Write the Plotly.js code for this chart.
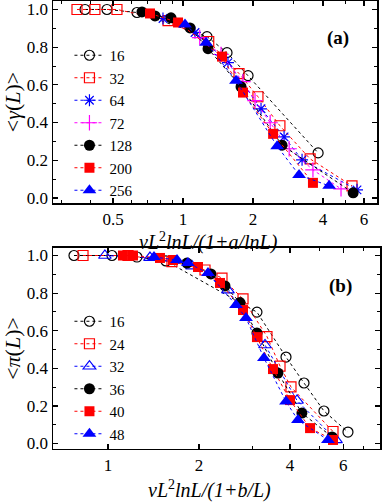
<!DOCTYPE html>
<html>
<head>
<meta charset="utf-8">
<script src="https://cdn.plot.ly/plotly-3.0.1.min.js"></script>
<style>
  html, body { margin: 0; padding: 0; background: #fff; }
  #graph { width: 382px; height: 502px; }
</style>
</head>
<body>
<div id="graph"></div>
<script>
// Panel (a): <gamma(L)> against vL^2 lnL/(1+a/lnL)
const aLabels = ["16", "32", "64", "72", "128", "200", "256"];
const aX16 = [0.379, 0.471, 0.634, 1.268, 1.546, 1.904, 3.81];
const aY16 = [1.0, 1.0, 0.984, 0.856, 0.771, 0.649, 0.239];
const aX32 = [0.350, 0.418, 0.520, 0.862, 1.29, 1.741, 2.10, 2.61, 3.52, 5.33];
const aY32 = [1.0, 1.0, 1.0, 0.941, 0.830, 0.660, 0.537, 0.383, 0.207, 0.064];
const aX64 = [0.820, 1.126, 1.561, 2.165, 2.72, 3.25, 5.6];
const aY64 = [0.952, 0.878, 0.718, 0.473, 0.324, 0.202, 0.043];
const aX72 = [1.18, 1.457, 1.81, 2.04, 2.37, 2.86, 3.62, 4.78];
const aY72 = [0.851, 0.761, 0.617, 0.516, 0.399, 0.261, 0.149, 0.048];
const aX128 = [0.666, 0.758, 0.888, 1.072, 1.281, 1.776, 2.666, 5.39];
const aY128 = [0.987, 0.966, 0.956, 0.902, 0.792, 0.590, 0.280, 0.027];
const aX200 = [0.721, 0.952, 1.471, 1.811, 2.44, 3.62];
const aY200 = [0.979, 0.931, 0.750, 0.559, 0.340, 0.080];
const aX256 = [1.02, 1.256, 1.69, 2.54, 3.155, 4.25];
const aY256 = [0.920, 0.824, 0.622, 0.274, 0.122, 0.064];

// Panel (b): <pi(L)> against vL^2 lnL/(1+b/L)
const bLabels = ["16", "24", "32", "36", "40", "48"];
const bX16 = [0.772, 1.031, 1.247, 1.555, 3.11, 3.88, 4.45, 5.18, 6.22];
const bY16 = [1.0, 1.0, 0.992, 0.971, 0.699, 0.460, 0.322, 0.173, 0.061];
const bX24 = [0.827, 1.165, 1.628, 2.094, 2.383, 2.797, 3.357, 3.707, 4.03, 5.55];
const bY24 = [1.0, 1.0, 0.968, 0.923, 0.880, 0.769, 0.569, 0.412, 0.301, 0.064];
const bX32 = [0.977, 1.377, 1.896, 2.494, 3.307, 4.22, 5.68];
const bY32 = [1.0, 0.989, 0.944, 0.816, 0.524, 0.229, 0.019];
const bX36 = [1.825, 2.19, 2.438, 2.734, 3.11, 3.65, 4.38, 5.51];
const bY36 = [0.960, 0.902, 0.838, 0.750, 0.588, 0.375, 0.162, 0.035];
const bX40 = [1.121, 1.21, 1.486, 1.641, 1.985, 2.347, 2.797, 3.11, 3.515, 4.0, 4.66, 5.55];
const bY40 = [1.0, 1.0, 0.987, 0.976, 0.939, 0.854, 0.710, 0.566, 0.396, 0.231, 0.082, 0.019];
const bX48 = [1.42, 1.692, 1.839, 2.142, 2.651, 2.861, 3.28, 3.88, 4.25, 5.34];
const bY48 = [0.992, 0.976, 0.960, 0.907, 0.737, 0.668, 0.455, 0.223, 0.125, 0.019];

const aTickVals = [0.5, 1, 2, 4, 6];
const aMinorVals = [0.3, 0.4, 0.6, 0.7, 0.8, 0.9, 3, 5];
const bTickVals = [1, 2, 4, 6];
const bMinorVals = [3, 5, 7];

const FONT = "Liberation Serif, Times New Roman, serif";
const BLACK = "#000000", RED = "#ff0000", BLUE = "#0000ff", MAGENTA = "#ff00ff";

function series(x, y, name, color, symbol, size, axes, legend) {
    return {
        x: x, y: y, name: name,
        type: "scatter", mode: "lines+markers",
        xaxis: axes[0], yaxis: axes[1], legend: legend,
        line: { color: color, width: 1, dash: "dot" },
        marker: {
            symbol: symbol, size: size, color: color,
            line: { color: color, width: symbol.indexOf("open") >= 0 ? 1.2 : 0 }
        }
    };
}

const A = ["x", "y"], B = ["x2", "y2"];
const data = [
    series(aX16, aY16, aLabels[0], BLACK, "circle-open", 10, A, "legend"),
    series(aX32, aY32, aLabels[1], RED, "square-open", 10, A, "legend"),
    series(aX64, aY64, aLabels[2], BLUE, "asterisk-open", 10, A, "legend"),
    series(aX72, aY72, aLabels[3], MAGENTA, "cross-thin-open", 11, A, "legend"),
    series(aX128, aY128, aLabels[4], BLACK, "circle", 11, A, "legend"),
    series(aX200, aY200, aLabels[5], RED, "square", 10, A, "legend"),
    series(aX256, aY256, aLabels[6], BLUE, "triangle-up", 12, A, "legend"),
    series(bX16, bY16, bLabels[0], BLACK, "circle-open", 10, B, "legend2"),
    series(bX24, bY24, bLabels[1], RED, "square-open", 10, B, "legend2"),
    series(bX32, bY32, bLabels[2], BLUE, "triangle-up-open", 11, B, "legend2"),
    series(bX36, bY36, bLabels[3], BLACK, "circle", 11, B, "legend2"),
    series(bX40, bY40, bLabels[4], RED, "square", 10, B, "legend2"),
    series(bX48, bY48, bLabels[5], BLUE, "triangle-up", 12, B, "legend2")
];

function xAxis(domain, range, tickvals, minorvals, anchor) {
    return {
        type: "log", domain: domain, range: range, anchor: anchor,
        tickmode: "array", tickvals: tickvals, ticktext: tickvals.map(String),
        ticks: "inside", ticklen: 5, tickwidth: 1.2, tickcolor: BLACK,
        minor: { tickmode: "array", tickvals: minorvals, ticks: "inside", ticklen: 3, tickwidth: 1, tickcolor: BLACK },
        showline: true, linecolor: BLACK, linewidth: 1.5, mirror: "allticks",
        showgrid: false, zeroline: false,
        tickfont: { family: FONT, size: 17, color: BLACK }
    };
}

function yAxis(domain, range, titleText, anchor) {
    return {
        domain: domain, range: range, anchor: anchor,
        tickmode: "linear", tick0: 0, dtick: 0.2, tickformat: ".1f",
        ticks: "inside", ticklen: 5, tickwidth: 1.2, tickcolor: BLACK,
        minor: { dtick: 0.1, ticks: "inside", ticklen: 3, tickwidth: 1, tickcolor: BLACK },
        showline: true, linecolor: BLACK, linewidth: 1.5, mirror: "allticks",
        showgrid: false, zeroline: false,
        tickfont: { family: FONT, size: 17, color: BLACK },
        title: { text: titleText, font: { family: FONT, size: 22, color: BLACK } }
    };
}

const legendBase = {
    xanchor: "left", yanchor: "middle",
    bgcolor: "rgba(0,0,0,0)", borderwidth: 0,
    font: { family: FONT, size: 15, color: BLACK },
    itemwidth: 30
};

const titleFont = { family: FONT, size: 20, color: BLACK };

const layout = {
    width: 382, height: 502,
    margin: { l: 53, r: 0, t: 0, b: 0 },
    paper_bgcolor: "#ffffff", plot_bgcolor: "#ffffff",
    font: { family: FONT, color: BLACK },
    xaxis: xAxis([0, 0.985], [Math.log10(0.276), Math.log10(6.83)], aTickVals, aMinorVals, "y"),
    yaxis: yAxis([0.5956, 0.998], [-0.027, 1.045], "&lt;<i>γ</i>(<i>L</i>)&gt;", "x"),
    xaxis2: xAxis([0, 0.994], [Math.log10(0.658), Math.log10(7.94)], bTickVals, bMinorVals, "y2"),
    yaxis2: yAxis([0.1056, 0.506], [-0.029, 1.040], "&lt;<i>π</i>(<i>L</i>)&gt;", "x2"),
    legend: Object.assign({}, legendBase, { x: 0.05, y: 0.755 }),
    legend2: Object.assign({}, legendBase, { x: 0.05, y: 0.248 }),
    annotations: [
        // x-axis titles
        { text: "<i>vL</i><sup>2</sup><i>lnL/(1+a/lnL)</i>", xref: "x domain", yref: "paper",
          x: 0.48, y: 0.519, yanchor: "middle", showarrow: false, font: titleFont },
        { text: "<i>vL</i><sup>2</sup><i>lnL/(1+b/L)</i>", xref: "x2 domain", yref: "paper",
          x: 0.48, y: 0.024, yanchor: "middle", showarrow: false, font: titleFont },
        // panel labels
        { text: "<b>(a)</b>", xref: "x domain", yref: "y domain", x: 0.92, y: 0.88,
          showarrow: false, font: { family: FONT, size: 19, color: BLACK } },
        { text: "<b>(b)</b>", xref: "x2 domain", yref: "y2 domain", x: 0.92, y: 0.875,
          showarrow: false, font: { family: FONT, size: 19, color: BLACK } }
    ]
};

Plotly.newPlot("graph", data, layout, { displayModeBar: false, staticPlot: true });
</script>
</body>
</html>
